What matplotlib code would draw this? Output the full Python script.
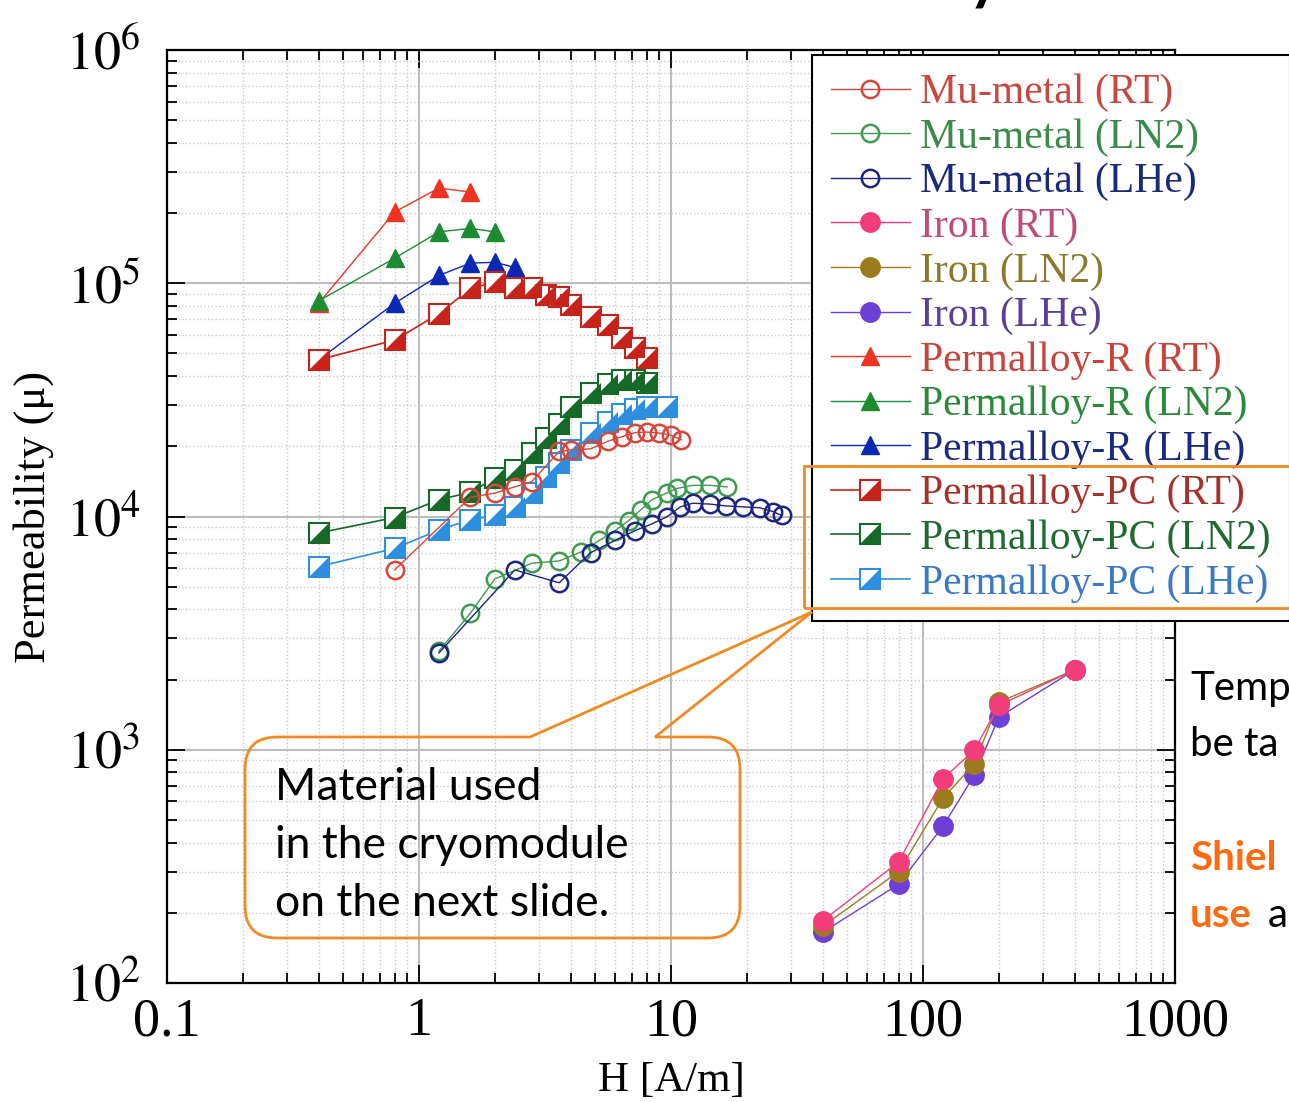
import matplotlib.pyplot as plt
import numpy as np
from matplotlib.path import Path
from matplotlib.patches import PathPatch, Rectangle
from matplotlib.legend_handler import HandlerTuple
from matplotlib.ticker import LogLocator, NullFormatter

plt.rcParams['font.family'] = 'serif'
plt.rcParams['font.serif'] = ['Liberation Serif', 'DejaVu Serif']
plt.rcParams['mathtext.fontset'] = 'stix'

# ---- data ----
mu_rt_h = [0.8, 1.6, 2.0, 2.4, 2.8, 3.6, 4.0, 4.8, 5.6, 6.4, 7.2, 8.0, 9.0, 10, 11]
mu_rt = [5900, 12100, 12600, 13400, 14100, 19000, 19300, 19500, 21000, 22000, 22900, 23000, 22800, 22300, 21300]

mu_ln2_h = [1.2, 1.6, 2.0, 2.8, 3.6, 4.4, 5.2, 6.0, 6.8, 7.6, 8.4, 9.6, 10.6, 12.2, 14.3, 16.7]
mu_ln2 = [2650, 3850, 5400, 6300, 6450, 7050, 7900, 8700, 9600, 10700, 11800, 12600, 13200, 13600, 13600, 13400]

mu_lhe_h = [1.2, 2.4, 3.6, 4.8, 6.0, 7.2, 8.4, 9.6, 10.9, 12.2, 14.3, 16.5, 19.3, 22.5, 25.4, 27.5]
mu_lhe = [2600, 5900, 5200, 7000, 7900, 8700, 9300, 9950, 11000, 11400, 11300, 11100, 11000, 10900, 10500, 10100]

iron_h = [40, 80, 120, 160, 200, 400]
iron_rt = [185, 330, 750, 1000, 1550, 2200]
iron_ln2 = [175, 300, 620, 870, 1600, 2200]
iron_lhe = [165, 265, 470, 780, 1380, 2200]

pr_rt_h = [0.4, 0.8, 1.2, 1.6]
pr_rt = [82000, 202000, 256000, 246000]
pr_ln2_h = [0.4, 0.8, 1.2, 1.6, 2.0]
pr_ln2 = [84000, 128000, 166000, 172000, 166000]
pr_lhe_h = [0.4, 0.8, 1.2, 1.6, 2.0, 2.4]
pr_lhe = [47000, 82000, 108000, 122000, 123000, 117000]

pc_h = [0.4, 0.8, 1.2, 1.6, 2.0, 2.4, 2.8, 3.2, 3.6, 4.0, 4.8, 5.6, 6.4, 7.2, 8.0]
pc_rt = [47000, 57000, 74000, 95000, 101000, 95000, 95000, 89000, 87000, 81000, 72000, 66000, 58000, 53000, 48000]
pc_ln2 = [8500, 9900, 11800, 12700, 14600, 15800, 18700, 21800, 25000, 29500, 34000, 37000, 38500, 38500, 37500]
pc_lhe_h = [0.4, 0.8, 1.2, 1.6, 2.0, 2.4, 2.8, 3.2, 3.6, 4.0, 4.8, 5.6, 6.4, 7.2, 8.0, 9.6]
pc_lhe = [6100, 7300, 8750, 9700, 10100, 11000, 12600, 14800, 17000, 19300, 22800, 25500, 27500, 29000, 29500, 29500]

labels = ['Mu-metal (RT)', 'Mu-metal (LN2)', 'Mu-metal (LHe)',
          'Iron (RT)', 'Iron (LN2)', 'Iron (LHe)',
          'Permalloy-R (RT)', 'Permalloy-R (LN2)', 'Permalloy-R (LHe)',
          'Permalloy-PC (RT)', 'Permalloy-PC (LN2)', 'Permalloy-PC (LHe)']
text_colors = ['#C8473E', '#3A8A48', '#1A2A7A', '#C04A7A', '#8A7A2A', '#5A3E9A',
               '#C8443A', '#2A8A3A', '#1A2A80', '#A8302A', '#1F6A2E', '#3A78C8']

W, H = 1289, 1102
fig = plt.figure(figsize=(W / 100, H / 100), dpi=100)


def fx(px):
    return px / W


def fy(py):
    return 1 - py / H


ax = fig.add_axes([fx(167), fy(983), (1175 - 167) / W, (983 - 50) / H])
ax.set_xscale('log')
ax.set_yscale('log')

# lower-right half of a square, for the Permalloy-PC markers
tri = Path([(-1, -1), (1, -1), (1, 1), (-1, -1)],
           [Path.MOVETO, Path.LINETO, Path.LINETO, Path.CLOSEPOLY])

h = {}
for key, x, y, c in [('pr_rt', pr_rt_h, pr_rt, '#EE3322'),
                     ('pr_ln2', pr_ln2_h, pr_ln2, '#1E8B32'),
                     ('pr_lhe', pr_lhe_h, pr_lhe, '#0B28B4')]:
    h[key], = ax.plot(x, y, '-', color=c, lw=1, marker='^', ms=13, mfc=c, mec=c)

for key, x, y, c in [('pc_rt', pc_h, pc_rt, '#C8231A'),
                     ('pc_ln2', pc_h, pc_ln2, '#17692A'),
                     ('pc_lhe', pc_lhe_h, pc_lhe, '#2E8FE0')]:
    a, = ax.plot(x, y, '-', color=c, lw=1.2, marker='s', ms=15, mfc='white', mec=c, mew=1.5)
    b, = ax.plot(x, y, ls='none', marker=tri, ms=15, mfc=c, mec=c, mew=0)
    h[key] = (a, b)

for key, x, y, c in [('mu_rt', mu_rt_h, mu_rt, '#D8463B'),
                     ('mu_ln2', mu_ln2_h, mu_ln2, '#3E9B4F'),
                     ('mu_lhe', mu_lhe_h, mu_lhe, '#1C2580')]:
    h[key], = ax.plot(x, y, '-', color=c, lw=1, marker='o', ms=12.5, mfc='none', mec=c, mew=1.8)

for key, y, c in [('fe_lhe', iron_lhe, '#6E3FD6'),
                  ('fe_ln2', iron_ln2, '#9C7B1C'),
                  ('fe_rt', iron_rt, '#F23D7A')]:
    h[key], = ax.plot(iron_h, y, '-', color=c, lw=1, marker='o', ms=14, mfc=c, mec=c)

order = ['mu_rt', 'mu_ln2', 'mu_lhe', 'fe_rt', 'fe_ln2', 'fe_lhe',
         'pr_rt', 'pr_ln2', 'pr_lhe', 'pc_rt', 'pc_ln2', 'pc_lhe']

ax.set_xlim(0.1, 1000)
ax.set_ylim(1e2, 1e6)
ax.set_xticks([0.1, 1, 10, 100, 1000])
ax.set_xticklabels(['0.1', '1', '10', '100', '1000'])
ax.set_yticks([1e2, 1e3, 1e4, 1e5, 1e6])
ax.set_yticklabels(['$10^2$', '$10^3$', '$10^4$', '$10^5$', '$10^6$'])
for axis in (ax.xaxis, ax.yaxis):
    axis.set_minor_locator(LogLocator(base=10, subs=np.arange(2, 10), numticks=20))
    axis.set_minor_formatter(NullFormatter())

ax.grid(True, which='major', color='#BDBDBD', lw=1.5, ls='-')
ax.grid(True, which='minor', color='#C8C8C8', lw=1.0, ls=':')
ax.set_axisbelow(True)
ax.tick_params(which='both', direction='in', top=True, right=True, width=1.3)
ax.tick_params(which='major', length=13, labelsize=39)
ax.tick_params(which='minor', length=7)
ax.tick_params(axis='x', which='major', pad=10)
ax.tick_params(axis='y', which='major', pad=19)
for s in ax.spines.values():
    s.set_linewidth(1.6)

ax.set_xlabel('H [A/m]', fontsize=31)
ax.xaxis.set_label_coords(0.5, -0.084)
ax.set_ylabel('Permeability (\u03bc)', fontsize=32)
ax.yaxis.set_label_coords(-0.112, 0.5)

leg = ax.legend([h[k] for k in order], labels, loc='upper left',
                bbox_to_anchor=(fx(812), fy(55)), bbox_transform=fig.transFigure,
                handler_map={tuple: HandlerTuple(ndivide=1)}, prop={'size': 30},
                labelcolor=text_colors, frameon=True, fancybox=False, edgecolor='black',
                framealpha=1, borderaxespad=0, handlelength=1.9, handletextpad=0.25,
                labelspacing=0.145, borderpad=0.45)
leg.get_frame().set_linewidth(1.5)

orange = '#F28A24'
fig.patches.append(Rectangle((fx(804), fy(608)), (1300 - 804) / W, (608 - 466) / H,
                             transform=fig.transFigure, fill=False, ec=orange, lw=2, zorder=5))

# callout box with a pointer towards the legend
x0, x1, y0, y1, r = 245, 740, 737, 938, 32
pts = [(530, y0), (812, 612), (655, y0), (x1 - r, y0), (x1, y0), (x1, y0 + r),
       (x1, y1 - r), (x1, y1), (x1 - r, y1), (x0 + r, y1), (x0, y1), (x0, y1 - r),
       (x0, y0 + r), (x0, y0), (x0 + r, y0), (530, y0)]
codes = [Path.MOVETO, Path.LINETO, Path.LINETO, Path.LINETO, Path.CURVE3, Path.CURVE3,
         Path.LINETO, Path.CURVE3, Path.CURVE3, Path.LINETO, Path.CURVE3, Path.CURVE3,
         Path.LINETO, Path.CURVE3, Path.CURVE3, Path.CLOSEPOLY]
callout = Path([(fx(px), fy(py)) for px, py in pts], codes)
fig.patches.append(PathPatch(callout, transform=fig.transFigure, fill=False,
                             ec=orange, lw=2, zorder=6))

sans = 'Lato'
for i, line in enumerate(['Material used', 'in the cryomodule', 'on the next slide.']):
    fig.text(fx(275), fy(800 + 58 * i), line, fontsize=32, family=sans, color='black',
             va='baseline', ha='left')

# the parts of the slide text that are visible at the right edge
fig.text(fx(1190), fy(700), 'Temp', fontsize=29, family=sans, va='baseline')
fig.text(fx(1190), fy(756), 'be ta', fontsize=29, family=sans, va='baseline')
fig.text(fx(1190), fy(870), 'Shiel', fontsize=29, family=sans, va='baseline',
         color='#FF6A10', weight='bold')
fig.text(fx(1190), fy(927), 'use', fontsize=29, family=sans, va='baseline',
         color='#FF6A10', weight='bold')
fig.text(fx(1268), fy(927), 'a', fontsize=29, family=sans, va='baseline')

# slide title, mostly above the picture
fig.text(fx(1008), fy(-7), 'Permeability', fontsize=60, family=sans, va='baseline', ha='right')
fig.text(fx(1030), fy(-7), 'Measurements', fontsize=60, family=sans, va='baseline', ha='left')

fig.savefig('out.png', dpi=100)
